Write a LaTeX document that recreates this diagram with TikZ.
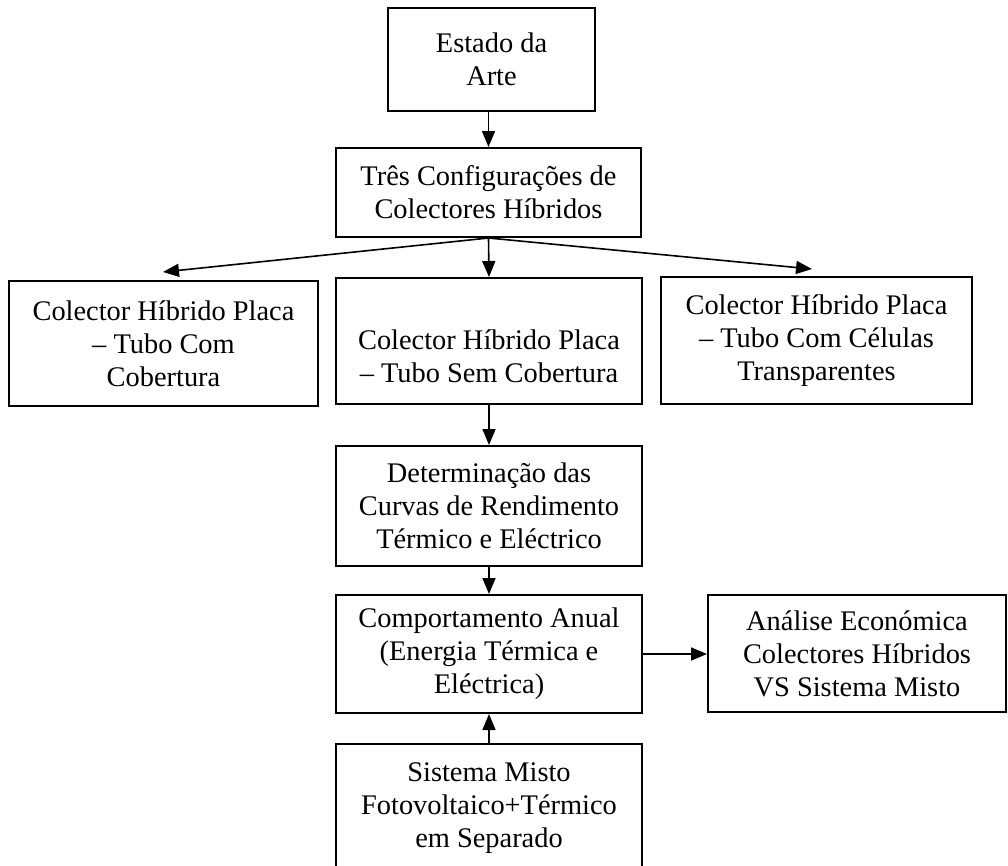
\documentclass[tikz,border=0pt]{standalone}
\usepackage{fontspec}
\setmainfont{Liberation Serif}
\usetikzlibrary{arrows.meta}
\begin{document}
\begin{tikzpicture}[x=1pt,y=-1pt,
  boxtxt/.style={align=center, font=\fontsize{28.4}{33}\selectfont, text=black},
  box/.style={draw=black, fill=white, line width=2pt, inner sep=0pt, boxtxt},
  arr/.style={draw=black, line width=1.6pt, -{Triangle[length=16pt,width=13pt]}}]
\useasboundingbox (0,0) rectangle (1008,865);
\clip (0,0) rectangle (1008,865);
\fill[white] (0,0) rectangle (1008,865);

\node[box, minimum width=207pt, minimum height=103pt] (est) at (491.5,59.5) {Estado da\\Arte};
\node[box, minimum width=305pt, minimum height=89pt] (tres) at (488.5,192.5) {Três Configurações de\\Colectores Híbridos};
\node[box, minimum width=309pt, minimum height=125pt] (left) at (163.5,343.5) {Colector Híbrido Placa\\– Tubo Com\\Cobertura};
\node[box, minimum width=306pt, minimum height=126pt,
      label={[boxtxt, yshift=-15pt]center:{Colector Híbrido Placa\\– Tubo Sem Cobertura}}] (mid) at (489,341) {};
\node[box, minimum width=311pt, minimum height=127pt] (right) at (816.5,340.5) {Colector Híbrido Placa\\– Tubo Com Células\\Transparentes};
\node[box, minimum width=306pt, minimum height=120pt] (det) at (489,506) {Determinação das\\Curvas de Rendimento\\Térmico e Eléctrico};
\node[box, minimum width=306pt, minimum height=118pt] (comp) at (489,654) {Comportamento Anual\\(Energia Térmica e\\Eléctrica)};
\node[box, minimum width=298pt, minimum height=117pt] (ana) at (857,653.5) {Análise Económica\\Colectores Híbridos\\VS Sistema Misto};
\node[box, minimum width=306pt, minimum height=128pt] (sis) at (489,808) {Sistema Misto\\Fotovoltaico+Térmico\\em Separado};

\coordinate (lt) at (163,272);
\coordinate (rt) at (812,269);

\draw[arr] (est.south -| tres.north) -- (tres.north);
\draw[arr] (tres.south) -- (lt);
\draw[arr] (tres.south) -- (rt);
\draw[arr] (tres.south) -- (mid.north);
\draw[arr] (mid.south) -- (det.north);
\draw[arr] (det.south) -- (comp.north);
\draw[arr] (sis.north) -- (comp.south);
\draw[arr] (comp.east) -- (comp.east -| ana.west);
\end{tikzpicture}
\end{document}
